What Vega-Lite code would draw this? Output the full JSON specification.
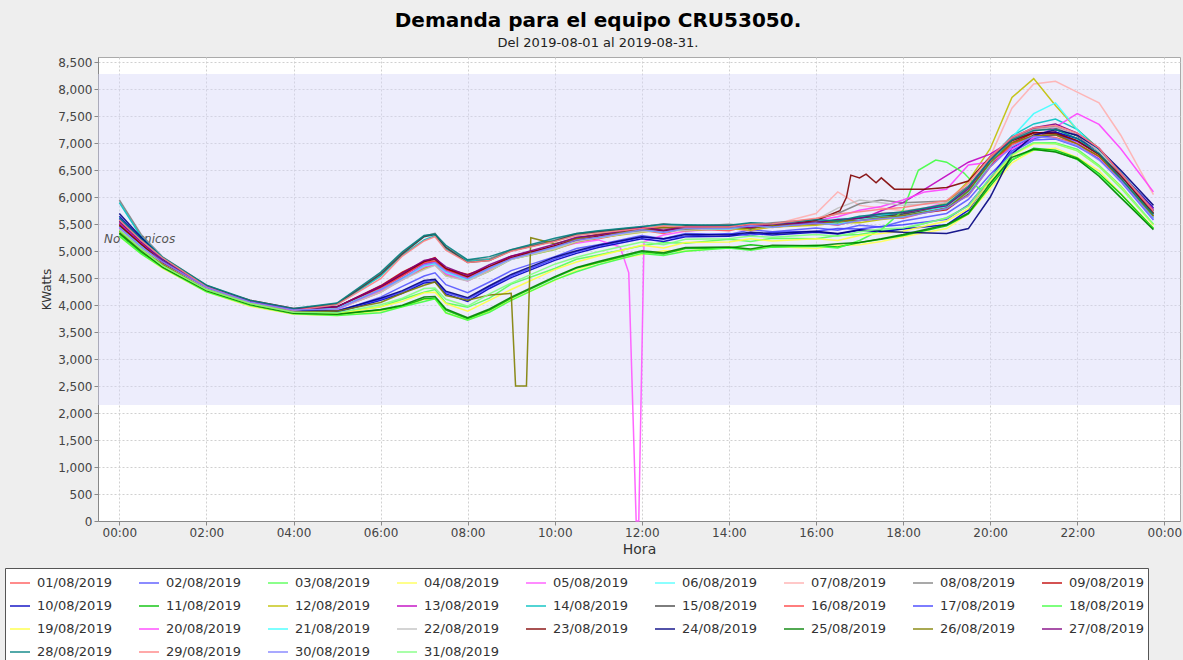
{
"$schema": "https://vega.github.io/schema/vega-lite/v6.json",
"width": 1082, "height": 464,
"autosize": {"type": "none"},
"padding": {"left": 98, "top": 57, "right": 3, "bottom": 139},
"background": "#EEEEEE",
"config": {"font": "DejaVu Sans", "view": {"fill": "white", "stroke": "#aaaaaa"}},
"title": {"text": "Demanda para el equipo CRU53050.", "subtitle": "Del 2019-08-01 al 2019-08-31.", "fontSize": 20, "fontWeight": "bold", "color": "black", "subtitleFontSize": 13, "subtitleColor": "#222222", "anchor": "middle", "frame": "group", "dx": -41, "offset": 6, "subtitlePadding": 6},
"layer": [
{"data": {"values": [{"lo": 2150, "hi": 8285}]},
 "mark": {"type": "rect", "fill": "#d8d8f8", "opacity": 0.45},
 "encoding": {
  "y": {"field": "lo", "type": "quantitative", "scale": {"domain": [0, 8600], "nice": false, "zero": false}, "axis": {"title": "KWatts", "values": [0,500,1000,1500,2000,2500,3000,3500,4000,4500,5000,5500,6000,6500,7000,7500,8000,8500], "format": ",.0f", "grid": true, "gridDash": [2,2], "gridColor": "#d0d0d0", "tickColor": "#888888", "domainColor": "#888888", "tickSize": 4, "labelFontSize": 12, "labelColor": "#444444", "titleFontSize": 12, "titleFontWeight": "normal", "titleColor": "#333333", "labelFlush": false}},
  "y2": {"field": "hi"}}},
{"data": {"values": [{"h": -0.35, "v": 5230, "t": "No Técnicos"}]},
 "mark": {"type": "text", "align": "left", "baseline": "middle", "fontStyle": "italic", "fontSize": 12, "color": "#555555"},
 "encoding": {
  "x": {"field": "h", "type": "quantitative", "scale": {"domain": [-0.49, 24.36], "nice": false, "zero": false}, "axis": {"title": "Hora", "values": [0,2,4,6,8,10,12,14,16,18,20,22,24], "labelExpr": "(datum.value % 24 < 10 ? '0' : '') + (datum.value % 24) + ':00'", "grid": true, "gridDash": [2,2], "gridColor": "#d0d0d0", "tickColor": "#888888", "domainColor": "#888888", "tickSize": 4, "labelPadding": 2, "labelFontSize": 12, "labelColor": "#444444", "titleFontSize": 14, "titleFontWeight": "normal", "titleColor": "#333333", "labelFlush": false}},
  "y": {"field": "v", "type": "quantitative", "axis": {"title": "KWatts", "values": [0,500,1000,1500,2000,2500,3000,3500,4000,4500,5000,5500,6000,6500,7000,7500,8000,8500], "format": ",.0f", "grid": true, "gridDash": [2,2], "gridColor": "#d0d0d0", "tickColor": "#888888", "domainColor": "#888888", "tickSize": 4, "labelFontSize": 12, "labelColor": "#444444", "titleFontSize": 12, "titleFontWeight": "normal", "titleColor": "#333333", "labelFlush": false}},
  "text": {"field": "t"}}},
{"data": {"values": [
{"d":1,"h":0,"v":5400},{"d":1,"h":0.5,"v":5060},{"d":1,"h":1,"v":4750},{"d":1,"h":2,"v":4310},{"d":1,"h":3,"v":4030},{"d":1,"h":4,"v":3880},{"d":1,"h":5,"v":3930},{"d":1,"h":6,"v":4240},{"d":1,"h":6.5,"v":4490},{"d":1,"h":7,"v":4690},{"d":1,"h":7.25,"v":4770},{"d":1,"h":7.5,"v":4570},{"d":1,"h":8,"v":4480},{"d":1,"h":8.5,"v":4640},{"d":1,"h":9,"v":4870},{"d":1,"h":10,"v":5040},{"d":1,"h":10.5,"v":5180},{"d":1,"h":11,"v":5230},{"d":1,"h":12,"v":5390},{"d":1,"h":12.5,"v":5330},{"d":1,"h":13,"v":5420},{"d":1,"h":14,"v":5380},{"d":1,"h":14.5,"v":5470},{"d":1,"h":15,"v":5440},{"d":1,"h":16,"v":5530},{"d":1,"h":16.5,"v":5480},{"d":1,"h":17,"v":5590},{"d":1,"h":17.5,"v":5620},{"d":1,"h":18,"v":5610},{"d":1,"h":19,"v":5820},{"d":1,"h":19.5,"v":6030},{"d":1,"h":20,"v":6560},{"d":1,"h":20.5,"v":6970},{"d":1,"h":21,"v":7160},{"d":1,"h":21.5,"v":7110},{"d":1,"h":22,"v":6990},{"d":1,"h":22.5,"v":6710},{"d":1,"h":23,"v":6330},{"d":1,"h":23.75,"v":5620},
{"d":2,"h":0,"v":5350},{"d":2,"h":0.5,"v":4990},{"d":2,"h":1,"v":4730},{"d":2,"h":2,"v":4260},{"d":2,"h":3,"v":3990},{"d":2,"h":4,"v":3840},{"d":2,"h":5,"v":3880},{"d":2,"h":6,"v":4150},{"d":2,"h":6.5,"v":4350},{"d":2,"h":7,"v":4540},{"d":2,"h":7.25,"v":4600},{"d":2,"h":7.5,"v":4380},{"d":2,"h":8,"v":4230},{"d":2,"h":8.5,"v":4430},{"d":2,"h":9,"v":4640},{"d":2,"h":10,"v":4900},{"d":2,"h":10.5,"v":5050},{"d":2,"h":11,"v":5120},{"d":2,"h":12,"v":5290},{"d":2,"h":12.5,"v":5230},{"d":2,"h":13,"v":5330},{"d":2,"h":14,"v":5310},{"d":2,"h":14.5,"v":5400},{"d":2,"h":15,"v":5360},{"d":2,"h":16,"v":5430},{"d":2,"h":16.5,"v":5390},{"d":2,"h":17,"v":5480},{"d":2,"h":17.5,"v":5450},{"d":2,"h":18,"v":5560},{"d":2,"h":19,"v":5700},{"d":2,"h":19.5,"v":5960},{"d":2,"h":20,"v":6420},{"d":2,"h":20.5,"v":6830},{"d":2,"h":21,"v":7060},{"d":2,"h":21.5,"v":7080},{"d":2,"h":22,"v":6940},{"d":2,"h":22.5,"v":6710},{"d":2,"h":23,"v":6290},{"d":2,"h":23.75,"v":5580},
{"d":3,"h":0,"v":5380},{"d":3,"h":0.5,"v":5010},{"d":3,"h":1,"v":4740},{"d":3,"h":2,"v":4300},{"d":3,"h":3,"v":4060},{"d":3,"h":4,"v":3890},{"d":3,"h":5,"v":3850},{"d":3,"h":6,"v":3970},{"d":3,"h":6.5,"v":4110},{"d":3,"h":7,"v":4240},{"d":3,"h":7.25,"v":4290},{"d":3,"h":7.5,"v":4040},{"d":3,"h":8,"v":3960},{"d":3,"h":8.5,"v":4130},{"d":3,"h":9,"v":4390},{"d":3,"h":10,"v":4680},{"d":3,"h":10.5,"v":4850},{"d":3,"h":11,"v":4930},{"d":3,"h":12,"v":5100},{"d":3,"h":12.5,"v":5160},{"d":3,"h":13,"v":5150},{"d":3,"h":14,"v":5220},{"d":3,"h":14.5,"v":5180},{"d":3,"h":15,"v":5240},{"d":3,"h":16,"v":5230},{"d":3,"h":16.5,"v":5290},{"d":3,"h":17,"v":5310},{"d":3,"h":17.5,"v":5380},{"d":3,"h":18,"v":5410},{"d":3,"h":19,"v":5620},{"d":3,"h":19.5,"v":5840},{"d":3,"h":20,"v":6360},{"d":3,"h":20.5,"v":6790},{"d":3,"h":21,"v":7010},{"d":3,"h":21.5,"v":7010},{"d":3,"h":22,"v":6890},{"d":3,"h":22.5,"v":6590},{"d":3,"h":23,"v":6210},{"d":3,"h":23.75,"v":5500},
{"d":4,"h":0,"v":5280},{"d":4,"h":0.5,"v":4960},{"d":4,"h":1,"v":4680},{"d":4,"h":2,"v":4250},{"d":4,"h":3,"v":3980},{"d":4,"h":4,"v":3830},{"d":4,"h":5,"v":3810},{"d":4,"h":6,"v":3890},{"d":4,"h":6.5,"v":3970},{"d":4,"h":7,"v":4110},{"d":4,"h":7.25,"v":4120},{"d":4,"h":7.5,"v":3860},{"d":4,"h":8,"v":3730},{"d":4,"h":8.5,"v":3890},{"d":4,"h":9,"v":4100},{"d":4,"h":10,"v":4460},{"d":4,"h":10.5,"v":4650},{"d":4,"h":11,"v":4790},{"d":4,"h":12,"v":4940},{"d":4,"h":12.5,"v":5010},{"d":4,"h":13,"v":5000},{"d":4,"h":14,"v":5080},{"d":4,"h":14.5,"v":5030},{"d":4,"h":15,"v":5090},{"d":4,"h":16,"v":5050},{"d":4,"h":16.5,"v":5110},{"d":4,"h":17,"v":5120},{"d":4,"h":17.5,"v":5180},{"d":4,"h":18,"v":5270},{"d":4,"h":19,"v":5420},{"d":4,"h":19.5,"v":5690},{"d":4,"h":20,"v":6160},{"d":4,"h":20.5,"v":6640},{"d":4,"h":21,"v":6870},{"d":4,"h":21.5,"v":6910},{"d":4,"h":22,"v":6740},{"d":4,"h":22.5,"v":6490},{"d":4,"h":23,"v":6070},{"d":4,"h":23.75,"v":5430},
{"d":5,"h":0,"v":5450},{"d":5,"h":0.5,"v":5110},{"d":5,"h":1,"v":4780},{"d":5,"h":2,"v":4330},{"d":5,"h":3,"v":4070},{"d":5,"h":4,"v":3920},{"d":5,"h":5,"v":3960},{"d":5,"h":6,"v":4310},{"d":5,"h":6.5,"v":4490},{"d":5,"h":7,"v":4730},{"d":5,"h":7.25,"v":4790},{"d":5,"h":7.5,"v":4590},{"d":5,"h":8,"v":4490},{"d":5,"h":8.5,"v":4670},{"d":5,"h":9,"v":4890},{"d":5,"h":10,"v":5050},{"d":5,"h":10.5,"v":5150},{"d":5,"h":11,"v":5210},{"d":5,"h":11.5,"v":5080},{"d":5,"h":11.7,"v":4600},{"d":5,"h":11.87,"v":0},{"d":5,"h":11.93,"v":0},{"d":5,"h":12.05,"v":5180},{"d":5,"h":12.5,"v":5300},{"d":5,"h":13,"v":5370},{"d":5,"h":14,"v":5420},{"d":5,"h":14.5,"v":5380},{"d":5,"h":15,"v":5460},{"d":5,"h":16,"v":5510},{"d":5,"h":16.5,"v":5560},{"d":5,"h":17,"v":5610},{"d":5,"h":17.5,"v":5660},{"d":5,"h":18,"v":5690},{"d":5,"h":19,"v":5910},{"d":5,"h":19.5,"v":6190},{"d":5,"h":20,"v":6710},{"d":5,"h":20.5,"v":7040},{"d":5,"h":21,"v":7210},{"d":5,"h":21.5,"v":7170},{"d":5,"h":22,"v":7010},{"d":5,"h":22.5,"v":6740},{"d":5,"h":23,"v":6360},{"d":5,"h":23.75,"v":5680},
{"d":6,"h":0,"v":5500},{"d":6,"h":0.5,"v":5140},{"d":6,"h":1,"v":4830},{"d":6,"h":2,"v":4350},{"d":6,"h":3,"v":4080},{"d":6,"h":4,"v":3930},{"d":6,"h":5,"v":3950},{"d":6,"h":6,"v":4270},{"d":6,"h":6.5,"v":4510},{"d":6,"h":7,"v":4690},{"d":6,"h":7.25,"v":4770},{"d":6,"h":7.5,"v":4570},{"d":6,"h":8,"v":4460},{"d":6,"h":8.5,"v":4630},{"d":6,"h":9,"v":4850},{"d":6,"h":10,"v":5030},{"d":6,"h":10.5,"v":5190},{"d":6,"h":11,"v":5250},{"d":6,"h":12,"v":5370},{"d":6,"h":12.5,"v":5440},{"d":6,"h":13,"v":5410},{"d":6,"h":14,"v":5470},{"d":6,"h":14.5,"v":5420},{"d":6,"h":15,"v":5490},{"d":6,"h":16,"v":5530},{"d":6,"h":16.5,"v":5600},{"d":6,"h":17,"v":5610},{"d":6,"h":17.5,"v":5690},{"d":6,"h":18,"v":5670},{"d":6,"h":19,"v":5860},{"d":6,"h":19.5,"v":6140},{"d":6,"h":20,"v":6660},{"d":6,"h":20.5,"v":6990},{"d":6,"h":21,"v":7190},{"d":6,"h":21.5,"v":7190},{"d":6,"h":22,"v":7060},{"d":6,"h":22.5,"v":6790},{"d":6,"h":23,"v":6390},{"d":6,"h":23.75,"v":5680},
{"d":7,"h":0,"v":5420},{"d":7,"h":0.5,"v":5070},{"d":7,"h":1,"v":4790},{"d":7,"h":2,"v":4330},{"d":7,"h":3,"v":4040},{"d":7,"h":4,"v":3890},{"d":7,"h":5,"v":3940},{"d":7,"h":6,"v":4250},{"d":7,"h":6.5,"v":4480},{"d":7,"h":7,"v":4670},{"d":7,"h":7.25,"v":4750},{"d":7,"h":7.5,"v":4550},{"d":7,"h":8,"v":4470},{"d":7,"h":8.5,"v":4650},{"d":7,"h":9,"v":4870},{"d":7,"h":10,"v":5070},{"d":7,"h":10.5,"v":5200},{"d":7,"h":11,"v":5290},{"d":7,"h":12,"v":5390},{"d":7,"h":12.5,"v":5360},{"d":7,"h":13,"v":5440},{"d":7,"h":14,"v":5450},{"d":7,"h":14.5,"v":5510},{"d":7,"h":15,"v":5490},{"d":7,"h":16,"v":5700},{"d":7,"h":16.5,"v":6100},{"d":7,"h":17,"v":5850},{"d":7,"h":17.5,"v":5800},{"d":7,"h":18,"v":5750},{"d":7,"h":19,"v":5850},{"d":7,"h":19.5,"v":6100},{"d":7,"h":20,"v":6750},{"d":7,"h":20.5,"v":7650},{"d":7,"h":21,"v":8100},{"d":7,"h":21.5,"v":8150},{"d":7,"h":22,"v":7950},{"d":7,"h":22.5,"v":7750},{"d":7,"h":23,"v":7150},{"d":7,"h":23.75,"v":6050},
{"d":8,"h":0,"v":5950},{"d":8,"h":0.5,"v":5310},{"d":8,"h":1,"v":4890},{"d":8,"h":2,"v":4370},{"d":8,"h":3,"v":4080},{"d":8,"h":4,"v":3930},{"d":8,"h":5,"v":4030},{"d":8,"h":6,"v":4590},{"d":8,"h":6.5,"v":4970},{"d":8,"h":7,"v":5280},{"d":8,"h":7.25,"v":5330},{"d":8,"h":7.5,"v":5070},{"d":8,"h":8,"v":4830},{"d":8,"h":8.5,"v":4860},{"d":8,"h":9,"v":5030},{"d":8,"h":10,"v":5210},{"d":8,"h":10.5,"v":5330},{"d":8,"h":11,"v":5370},{"d":8,"h":12,"v":5450},{"d":8,"h":12.5,"v":5510},{"d":8,"h":13,"v":5460},{"d":8,"h":14,"v":5500},{"d":8,"h":14.5,"v":5470},{"d":8,"h":15,"v":5530},{"d":8,"h":16,"v":5590},{"d":8,"h":16.5,"v":5700},{"d":8,"h":17,"v":5880},{"d":8,"h":17.5,"v":5950},{"d":8,"h":18,"v":5900},{"d":8,"h":19,"v":5930},{"d":8,"h":19.5,"v":6210},{"d":8,"h":20,"v":6690},{"d":8,"h":20.5,"v":7090},{"d":8,"h":21,"v":7270},{"d":8,"h":21.5,"v":7310},{"d":8,"h":22,"v":7140},{"d":8,"h":22.5,"v":6860},{"d":8,"h":23,"v":6410},{"d":8,"h":23.75,"v":5720},
{"d":9,"h":0,"v":5500},{"d":9,"h":0.5,"v":5130},{"d":9,"h":1,"v":4810},{"d":9,"h":2,"v":4340},{"d":9,"h":3,"v":4090},{"d":9,"h":4,"v":3940},{"d":9,"h":5,"v":3970},{"d":9,"h":6,"v":4360},{"d":9,"h":6.5,"v":4610},{"d":9,"h":7,"v":4810},{"d":9,"h":7.25,"v":4880},{"d":9,"h":7.5,"v":4670},{"d":9,"h":8,"v":4570},{"d":9,"h":8.5,"v":4710},{"d":9,"h":9,"v":4910},{"d":9,"h":10,"v":5090},{"d":9,"h":10.5,"v":5240},{"d":9,"h":11,"v":5310},{"d":9,"h":12,"v":5410},{"d":9,"h":12.5,"v":5370},{"d":9,"h":13,"v":5450},{"d":9,"h":14,"v":5450},{"d":9,"h":14.5,"v":5500},{"d":9,"h":15,"v":5480},{"d":9,"h":16,"v":5550},{"d":9,"h":16.5,"v":5520},{"d":9,"h":17,"v":5590},{"d":9,"h":17.5,"v":5640},{"d":9,"h":18,"v":5660},{"d":9,"h":19,"v":5770},{"d":9,"h":19.5,"v":6060},{"d":9,"h":20,"v":6590},{"d":9,"h":20.5,"v":7010},{"d":9,"h":21,"v":7190},{"d":9,"h":21.5,"v":7210},{"d":9,"h":22,"v":7040},{"d":9,"h":22.5,"v":6790},{"d":9,"h":23,"v":6370},{"d":9,"h":23.75,"v":5700},
{"d":10,"h":0,"v":5650},{"d":10,"h":0.5,"v":5230},{"d":10,"h":1,"v":4860},{"d":10,"h":2,"v":4350},{"d":10,"h":3,"v":4070},{"d":10,"h":4,"v":3910},{"d":10,"h":5,"v":3870},{"d":10,"h":6,"v":4090},{"d":10,"h":6.5,"v":4220},{"d":10,"h":7,"v":4410},{"d":10,"h":7.25,"v":4430},{"d":10,"h":7.5,"v":4210},{"d":10,"h":8,"v":4070},{"d":10,"h":8.5,"v":4310},{"d":10,"h":9,"v":4510},{"d":10,"h":10,"v":4830},{"d":10,"h":10.5,"v":4960},{"d":10,"h":11,"v":5070},{"d":10,"h":12,"v":5230},{"d":10,"h":12.5,"v":5180},{"d":10,"h":13,"v":5270},{"d":10,"h":14,"v":5280},{"d":10,"h":14.5,"v":5330},{"d":10,"h":15,"v":5300},{"d":10,"h":16,"v":5350},{"d":10,"h":16.5,"v":5320},{"d":10,"h":17,"v":5390},{"d":10,"h":17.5,"v":5360},{"d":10,"h":18,"v":5410},{"d":10,"h":19,"v":5490},{"d":10,"h":19.5,"v":5760},{"d":10,"h":20,"v":6340},{"d":10,"h":20.5,"v":6910},{"d":10,"h":21,"v":7140},{"d":10,"h":21.5,"v":7210},{"d":10,"h":22,"v":7090},{"d":10,"h":22.5,"v":6860},{"d":10,"h":23,"v":6440},{"d":10,"h":23.75,"v":5800},
{"d":11,"h":0,"v":5320},{"d":11,"h":0.5,"v":4980},{"d":11,"h":1,"v":4710},{"d":11,"h":2,"v":4270},{"d":11,"h":3,"v":4010},{"d":11,"h":4,"v":3850},{"d":11,"h":5,"v":3830},{"d":11,"h":6,"v":3910},{"d":11,"h":6.5,"v":3980},{"d":11,"h":7,"v":4120},{"d":11,"h":7.25,"v":4130},{"d":11,"h":7.5,"v":3910},{"d":11,"h":8,"v":3750},{"d":11,"h":8.5,"v":3910},{"d":11,"h":9,"v":4130},{"d":11,"h":10,"v":4510},{"d":11,"h":10.5,"v":4690},{"d":11,"h":11,"v":4790},{"d":11,"h":12,"v":4990},{"d":11,"h":12.5,"v":4950},{"d":11,"h":13,"v":5050},{"d":11,"h":14,"v":5060},{"d":11,"h":14.5,"v":5120},{"d":11,"h":15,"v":5080},{"d":11,"h":16,"v":5110},{"d":11,"h":16.5,"v":5080},{"d":11,"h":17,"v":5160},{"d":11,"h":17.5,"v":5220},{"d":11,"h":18,"v":5290},{"d":11,"h":19,"v":5470},{"d":11,"h":19.5,"v":5690},{"d":11,"h":20,"v":6210},{"d":11,"h":20.5,"v":6690},{"d":11,"h":21,"v":6910},{"d":11,"h":21.5,"v":6870},{"d":11,"h":22,"v":6730},{"d":11,"h":22.5,"v":6440},{"d":11,"h":23,"v":6060},{"d":11,"h":23.75,"v":5420},
{"d":12,"h":0,"v":5480},{"d":12,"h":0.5,"v":5110},{"d":12,"h":1,"v":4810},{"d":12,"h":2,"v":4320},{"d":12,"h":3,"v":4050},{"d":12,"h":4,"v":3890},{"d":12,"h":5,"v":3950},{"d":12,"h":6,"v":4260},{"d":12,"h":6.5,"v":4480},{"d":12,"h":7,"v":4680},{"d":12,"h":7.25,"v":4750},{"d":12,"h":7.5,"v":4550},{"d":12,"h":8,"v":4460},{"d":12,"h":8.5,"v":4630},{"d":12,"h":9,"v":4850},{"d":12,"h":10,"v":5030},{"d":12,"h":10.5,"v":5170},{"d":12,"h":11,"v":5250},{"d":12,"h":12,"v":5350},{"d":12,"h":12.5,"v":5400},{"d":12,"h":13,"v":5380},{"d":12,"h":14,"v":5420},{"d":12,"h":14.5,"v":5390},{"d":12,"h":15,"v":5450},{"d":12,"h":16,"v":5480},{"d":12,"h":16.5,"v":5530},{"d":12,"h":17,"v":5530},{"d":12,"h":17.5,"v":5590},{"d":12,"h":18,"v":5630},{"d":12,"h":19,"v":5900},{"d":12,"h":19.5,"v":6300},{"d":12,"h":20,"v":6900},{"d":12,"h":20.5,"v":7850},{"d":12,"h":21,"v":8200},{"d":12,"h":21.5,"v":7700},{"d":12,"h":22,"v":7250},{"d":12,"h":22.5,"v":6900},{"d":12,"h":23,"v":6450},{"d":12,"h":23.75,"v":5650},
{"d":13,"h":0,"v":5520},{"d":13,"h":0.5,"v":5150},{"d":13,"h":1,"v":4800},{"d":13,"h":2,"v":4320},{"d":13,"h":3,"v":4070},{"d":13,"h":4,"v":3920},{"d":13,"h":5,"v":3940},{"d":13,"h":6,"v":4330},{"d":13,"h":6.5,"v":4550},{"d":13,"h":7,"v":4770},{"d":13,"h":7.25,"v":4810},{"d":13,"h":7.5,"v":4650},{"d":13,"h":8,"v":4510},{"d":13,"h":8.5,"v":4710},{"d":13,"h":9,"v":4870},{"d":13,"h":10,"v":5090},{"d":13,"h":10.5,"v":5210},{"d":13,"h":11,"v":5270},{"d":13,"h":12,"v":5410},{"d":13,"h":12.5,"v":5360},{"d":13,"h":13,"v":5430},{"d":13,"h":14,"v":5430},{"d":13,"h":14.5,"v":5480},{"d":13,"h":15,"v":5460},{"d":13,"h":16,"v":5520},{"d":13,"h":16.5,"v":5560},{"d":13,"h":17,"v":5580},{"d":13,"h":17.5,"v":5750},{"d":13,"h":18,"v":5900},{"d":13,"h":19,"v":6400},{"d":13,"h":19.5,"v":6650},{"d":13,"h":20,"v":6800},{"d":13,"h":20.5,"v":7050},{"d":13,"h":21,"v":7250},{"d":13,"h":21.5,"v":7300},{"d":13,"h":22,"v":7150},{"d":13,"h":22.5,"v":6850},{"d":13,"h":23,"v":6420},{"d":13,"h":23.75,"v":5780},
{"d":14,"h":0,"v":5900},{"d":14,"h":0.5,"v":5270},{"d":14,"h":1,"v":4880},{"d":14,"h":2,"v":4360},{"d":14,"h":3,"v":4060},{"d":14,"h":4,"v":3910},{"d":14,"h":5,"v":4010},{"d":14,"h":6,"v":4540},{"d":14,"h":6.5,"v":4930},{"d":14,"h":7,"v":5210},{"d":14,"h":7.25,"v":5290},{"d":14,"h":7.5,"v":5040},{"d":14,"h":8,"v":4810},{"d":14,"h":8.5,"v":4840},{"d":14,"h":9,"v":5010},{"d":14,"h":10,"v":5190},{"d":14,"h":10.5,"v":5300},{"d":14,"h":11,"v":5350},{"d":14,"h":12,"v":5430},{"d":14,"h":12.5,"v":5480},{"d":14,"h":13,"v":5460},{"d":14,"h":14,"v":5460},{"d":14,"h":14.5,"v":5520},{"d":14,"h":15,"v":5490},{"d":14,"h":16,"v":5570},{"d":14,"h":16.5,"v":5540},{"d":14,"h":17,"v":5630},{"d":14,"h":17.5,"v":5660},{"d":14,"h":18,"v":5710},{"d":14,"h":19,"v":5860},{"d":14,"h":19.5,"v":6140},{"d":14,"h":20,"v":6710},{"d":14,"h":20.5,"v":7140},{"d":14,"h":21,"v":7360},{"d":14,"h":21.5,"v":7450},{"d":14,"h":22,"v":7260},{"d":14,"h":22.5,"v":6890},{"d":14,"h":23,"v":6460},{"d":14,"h":23.75,"v":5750},
{"d":15,"h":0,"v":5550},{"d":15,"h":0.5,"v":5190},{"d":15,"h":1,"v":4850},{"d":15,"h":2,"v":4360},{"d":15,"h":3,"v":4070},{"d":15,"h":4,"v":3920},{"d":15,"h":5,"v":4020},{"d":15,"h":6,"v":4570},{"d":15,"h":6.5,"v":4950},{"d":15,"h":7,"v":5270},{"d":15,"h":7.25,"v":5310},{"d":15,"h":7.5,"v":5070},{"d":15,"h":8,"v":4790},{"d":15,"h":8.5,"v":4830},{"d":15,"h":9,"v":5010},{"d":15,"h":10,"v":5190},{"d":15,"h":10.5,"v":5320},{"d":15,"h":11,"v":5360},{"d":15,"h":12,"v":5440},{"d":15,"h":12.5,"v":5400},{"d":15,"h":13,"v":5470},{"d":15,"h":14,"v":5460},{"d":15,"h":14.5,"v":5420},{"d":15,"h":15,"v":5510},{"d":15,"h":16,"v":5530},{"d":15,"h":16.5,"v":5580},{"d":15,"h":17,"v":5610},{"d":15,"h":17.5,"v":5640},{"d":15,"h":18,"v":5690},{"d":15,"h":19,"v":5810},{"d":15,"h":19.5,"v":6110},{"d":15,"h":20,"v":6640},{"d":15,"h":20.5,"v":7060},{"d":15,"h":21,"v":7240},{"d":15,"h":21.5,"v":7290},{"d":15,"h":22,"v":7140},{"d":15,"h":22.5,"v":6860},{"d":15,"h":23,"v":6390},{"d":15,"h":23.75,"v":5700},
{"d":16,"h":0,"v":5470},{"d":16,"h":0.5,"v":5120},{"d":16,"h":1,"v":4790},{"d":16,"h":2,"v":4320},{"d":16,"h":3,"v":4050},{"d":16,"h":4,"v":3890},{"d":16,"h":5,"v":3950},{"d":16,"h":6,"v":4310},{"d":16,"h":6.5,"v":4540},{"d":16,"h":7,"v":4790},{"d":16,"h":7.25,"v":4820},{"d":16,"h":7.5,"v":4660},{"d":16,"h":8,"v":4510},{"d":16,"h":8.5,"v":4710},{"d":16,"h":9,"v":4870},{"d":16,"h":10,"v":5090},{"d":16,"h":10.5,"v":5200},{"d":16,"h":11,"v":5270},{"d":16,"h":12,"v":5410},{"d":16,"h":12.5,"v":5450},{"d":16,"h":13,"v":5410},{"d":16,"h":14,"v":5450},{"d":16,"h":14.5,"v":5430},{"d":16,"h":15,"v":5480},{"d":16,"h":16,"v":5510},{"d":16,"h":16.5,"v":5570},{"d":16,"h":17,"v":5570},{"d":16,"h":17.5,"v":5610},{"d":16,"h":18,"v":5660},{"d":16,"h":19,"v":5790},{"d":16,"h":19.5,"v":6090},{"d":16,"h":20,"v":6590},{"d":16,"h":20.5,"v":6990},{"d":16,"h":21,"v":7140},{"d":16,"h":21.5,"v":7160},{"d":16,"h":22,"v":6990},{"d":16,"h":22.5,"v":6760},{"d":16,"h":23,"v":6340},{"d":16,"h":23.75,"v":5650},
{"d":17,"h":0,"v":5600},{"d":17,"h":0.5,"v":5210},{"d":17,"h":1,"v":4830},{"d":17,"h":2,"v":4330},{"d":17,"h":3,"v":4050},{"d":17,"h":4,"v":3890},{"d":17,"h":5,"v":3900},{"d":17,"h":6,"v":4110},{"d":17,"h":6.5,"v":4250},{"d":17,"h":7,"v":4440},{"d":17,"h":7.25,"v":4460},{"d":17,"h":7.5,"v":4240},{"d":17,"h":8,"v":4110},{"d":17,"h":8.5,"v":4340},{"d":17,"h":9,"v":4540},{"d":17,"h":10,"v":4860},{"d":17,"h":10.5,"v":4990},{"d":17,"h":11,"v":5090},{"d":17,"h":12,"v":5260},{"d":17,"h":12.5,"v":5220},{"d":17,"h":13,"v":5280},{"d":17,"h":14,"v":5330},{"d":17,"h":14.5,"v":5290},{"d":17,"h":15,"v":5350},{"d":17,"h":16,"v":5370},{"d":17,"h":16.5,"v":5420},{"d":17,"h":17,"v":5410},{"d":17,"h":17.5,"v":5460},{"d":17,"h":18,"v":5490},{"d":17,"h":19,"v":5590},{"d":17,"h":19.5,"v":5860},{"d":17,"h":20,"v":6340},{"d":17,"h":20.5,"v":6860},{"d":17,"h":21,"v":7090},{"d":17,"h":21.5,"v":7160},{"d":17,"h":22,"v":7040},{"d":17,"h":22.5,"v":6810},{"d":17,"h":23,"v":6390},{"d":17,"h":23.75,"v":5750},
{"d":18,"h":0,"v":5280},{"d":18,"h":0.5,"v":4950},{"d":18,"h":1,"v":4690},{"d":18,"h":2,"v":4250},{"d":18,"h":3,"v":4000},{"d":18,"h":4,"v":3840},{"d":18,"h":5,"v":3810},{"d":18,"h":6,"v":3860},{"d":18,"h":6.5,"v":3970},{"d":18,"h":7,"v":4070},{"d":18,"h":7.25,"v":4120},{"d":18,"h":7.5,"v":3860},{"d":18,"h":8,"v":3720},{"d":18,"h":8.5,"v":3870},{"d":18,"h":9,"v":4090},{"d":18,"h":10,"v":4470},{"d":18,"h":10.5,"v":4620},{"d":18,"h":11,"v":4750},{"d":18,"h":12,"v":4960},{"d":18,"h":12.5,"v":4920},{"d":18,"h":13,"v":5000},{"d":18,"h":14,"v":5060},{"d":18,"h":14.5,"v":5020},{"d":18,"h":15,"v":5080},{"d":18,"h":16,"v":5090},{"d":18,"h":16.5,"v":5060},{"d":18,"h":17,"v":5200},{"d":18,"h":17.5,"v":5400},{"d":18,"h":18,"v":5760},{"d":18,"h":18.35,"v":6500},{"d":18,"h":18.75,"v":6690},{"d":18,"h":19,"v":6650},{"d":18,"h":19.4,"v":6450},{"d":18,"h":19.75,"v":6150},{"d":18,"h":20,"v":6250},{"d":18,"h":20.5,"v":6700},{"d":18,"h":21,"v":6880},{"d":18,"h":21.5,"v":6850},{"d":18,"h":22,"v":6700},{"d":18,"h":22.5,"v":6420},{"d":18,"h":23,"v":6000},{"d":18,"h":23.75,"v":5420},
{"d":19,"h":0,"v":5360},{"d":19,"h":0.5,"v":5020},{"d":19,"h":1,"v":4710},{"d":19,"h":2,"v":4280},{"d":19,"h":3,"v":4020},{"d":19,"h":4,"v":3860},{"d":19,"h":5,"v":3840},{"d":19,"h":6,"v":3970},{"d":19,"h":6.5,"v":4070},{"d":19,"h":7,"v":4230},{"d":19,"h":7.25,"v":4240},{"d":19,"h":7.5,"v":4030},{"d":19,"h":8,"v":3890},{"d":19,"h":8.5,"v":4090},{"d":19,"h":9,"v":4290},{"d":19,"h":10,"v":4660},{"d":19,"h":10.5,"v":4800},{"d":19,"h":11,"v":4910},{"d":19,"h":12,"v":5110},{"d":19,"h":12.5,"v":5060},{"d":19,"h":13,"v":5160},{"d":19,"h":14,"v":5170},{"d":19,"h":14.5,"v":5230},{"d":19,"h":15,"v":5190},{"d":19,"h":16,"v":5230},{"d":19,"h":16.5,"v":5200},{"d":19,"h":17,"v":5290},{"d":19,"h":17.5,"v":5330},{"d":19,"h":18,"v":5370},{"d":19,"h":19,"v":5560},{"d":19,"h":19.5,"v":5790},{"d":19,"h":20,"v":6310},{"d":19,"h":20.5,"v":6770},{"d":19,"h":21,"v":6990},{"d":19,"h":21.5,"v":6990},{"d":19,"h":22,"v":6860},{"d":19,"h":22.5,"v":6570},{"d":19,"h":23,"v":6190},{"d":19,"h":23.75,"v":5480},
{"d":20,"h":0,"v":5430},{"d":20,"h":0.5,"v":5080},{"d":20,"h":1,"v":4800},{"d":20,"h":2,"v":4310},{"d":20,"h":3,"v":4060},{"d":20,"h":4,"v":3910},{"d":20,"h":5,"v":3920},{"d":20,"h":6,"v":4270},{"d":20,"h":6.5,"v":4470},{"d":20,"h":7,"v":4710},{"d":20,"h":7.25,"v":4750},{"d":20,"h":7.5,"v":4580},{"d":20,"h":8,"v":4450},{"d":20,"h":8.5,"v":4670},{"d":20,"h":9,"v":4850},{"d":20,"h":10,"v":5070},{"d":20,"h":10.5,"v":5190},{"d":20,"h":11,"v":5250},{"d":20,"h":12,"v":5390},{"d":20,"h":12.5,"v":5420},{"d":20,"h":13,"v":5400},{"d":20,"h":14,"v":5460},{"d":20,"h":14.5,"v":5440},{"d":20,"h":15,"v":5510},{"d":20,"h":16,"v":5570},{"d":20,"h":16.5,"v":5640},{"d":20,"h":17,"v":5760},{"d":20,"h":17.5,"v":5830},{"d":20,"h":18,"v":5950},{"d":20,"h":18.5,"v":6100},{"d":20,"h":19,"v":6150},{"d":20,"h":19.5,"v":6600},{"d":20,"h":20,"v":6650},{"d":20,"h":20.5,"v":6900},{"d":20,"h":21,"v":7100},{"d":20,"h":21.5,"v":7300},{"d":20,"h":22,"v":7550},{"d":20,"h":22.5,"v":7350},{"d":20,"h":23,"v":6900},{"d":20,"h":23.75,"v":6100},
{"d":21,"h":0,"v":5460},{"d":21,"h":0.5,"v":5100},{"d":21,"h":1,"v":4810},{"d":21,"h":2,"v":4340},{"d":21,"h":3,"v":4050},{"d":21,"h":4,"v":3900},{"d":21,"h":5,"v":3950},{"d":21,"h":6,"v":4290},{"d":21,"h":6.5,"v":4490},{"d":21,"h":7,"v":4730},{"d":21,"h":7.25,"v":4770},{"d":21,"h":7.5,"v":4610},{"d":21,"h":8,"v":4470},{"d":21,"h":8.5,"v":4680},{"d":21,"h":9,"v":4850},{"d":21,"h":10,"v":5070},{"d":21,"h":10.5,"v":5200},{"d":21,"h":11,"v":5250},{"d":21,"h":12,"v":5390},{"d":21,"h":12.5,"v":5350},{"d":21,"h":13,"v":5410},{"d":21,"h":14,"v":5410},{"d":21,"h":14.5,"v":5460},{"d":21,"h":15,"v":5450},{"d":21,"h":16,"v":5530},{"d":21,"h":16.5,"v":5500},{"d":21,"h":17,"v":5590},{"d":21,"h":17.5,"v":5630},{"d":21,"h":18,"v":5650},{"d":21,"h":19,"v":5830},{"d":21,"h":19.5,"v":6090},{"d":21,"h":20,"v":6610},{"d":21,"h":20.5,"v":7110},{"d":21,"h":21,"v":7550},{"d":21,"h":21.5,"v":7750},{"d":21,"h":22,"v":7250},{"d":21,"h":22.5,"v":6850},{"d":21,"h":23,"v":6400},{"d":21,"h":23.75,"v":5620},
{"d":22,"h":0,"v":5400},{"d":22,"h":0.5,"v":5070},{"d":22,"h":1,"v":4760},{"d":22,"h":2,"v":4300},{"d":22,"h":3,"v":4040},{"d":22,"h":4,"v":3880},{"d":22,"h":5,"v":3930},{"d":22,"h":6,"v":4240},{"d":22,"h":6.5,"v":4470},{"d":22,"h":7,"v":4660},{"d":22,"h":7.25,"v":4740},{"d":22,"h":7.5,"v":4540},{"d":22,"h":8,"v":4450},{"d":22,"h":8.5,"v":4630},{"d":22,"h":9,"v":4850},{"d":22,"h":10,"v":5040},{"d":22,"h":10.5,"v":5180},{"d":22,"h":11,"v":5260},{"d":22,"h":12,"v":5360},{"d":22,"h":12.5,"v":5410},{"d":22,"h":13,"v":5390},{"d":22,"h":14,"v":5440},{"d":22,"h":14.5,"v":5460},{"d":22,"h":15,"v":5480},{"d":22,"h":16,"v":5580},{"d":22,"h":16.5,"v":5800},{"d":22,"h":17,"v":5950},{"d":22,"h":17.5,"v":5900},{"d":22,"h":18,"v":5850},{"d":22,"h":19,"v":5900},{"d":22,"h":19.5,"v":6150},{"d":22,"h":20,"v":6700},{"d":22,"h":20.5,"v":7050},{"d":22,"h":21,"v":7250},{"d":22,"h":21.5,"v":7300},{"d":22,"h":22,"v":7150},{"d":22,"h":22.5,"v":6850},{"d":22,"h":23,"v":6450},{"d":22,"h":23.75,"v":5700},
{"d":23,"h":0,"v":5480},{"d":23,"h":0.5,"v":5130},{"d":23,"h":1,"v":4790},{"d":23,"h":2,"v":4340},{"d":23,"h":3,"v":4070},{"d":23,"h":4,"v":3910},{"d":23,"h":5,"v":3970},{"d":23,"h":6,"v":4340},{"d":23,"h":6.5,"v":4570},{"d":23,"h":7,"v":4810},{"d":23,"h":7.25,"v":4850},{"d":23,"h":7.5,"v":4680},{"d":23,"h":8,"v":4530},{"d":23,"h":8.5,"v":4720},{"d":23,"h":9,"v":4880},{"d":23,"h":10,"v":5100},{"d":23,"h":10.5,"v":5210},{"d":23,"h":11,"v":5280},{"d":23,"h":12,"v":5420},{"d":23,"h":12.5,"v":5380},{"d":23,"h":13,"v":5440},{"d":23,"h":14,"v":5440},{"d":23,"h":14.5,"v":5500},{"d":23,"h":15,"v":5470},{"d":23,"h":16,"v":5570},{"d":23,"h":16.55,"v":5750},{"d":23,"h":16.7,"v":6000},{"d":23,"h":16.8,"v":6410},{"d":23,"h":17,"v":6360},{"d":23,"h":17.15,"v":6430},{"d":23,"h":17.38,"v":6270},{"d":23,"h":17.5,"v":6360},{"d":23,"h":17.8,"v":6150},{"d":23,"h":18.5,"v":6150},{"d":23,"h":19,"v":6180},{"d":23,"h":19.5,"v":6300},{"d":23,"h":20,"v":6750},{"d":23,"h":20.5,"v":7050},{"d":23,"h":21,"v":7200},{"d":23,"h":21.5,"v":7180},{"d":23,"h":22,"v":7050},{"d":23,"h":22.5,"v":6800},{"d":23,"h":23,"v":6400},{"d":23,"h":23.75,"v":5700},
{"d":24,"h":0,"v":5700},{"d":24,"h":0.5,"v":5260},{"d":24,"h":1,"v":4860},{"d":24,"h":2,"v":4340},{"d":24,"h":3,"v":4060},{"d":24,"h":4,"v":3900},{"d":24,"h":5,"v":3890},{"d":24,"h":6,"v":4130},{"d":24,"h":6.5,"v":4270},{"d":24,"h":7,"v":4460},{"d":24,"h":7.25,"v":4480},{"d":24,"h":7.5,"v":4260},{"d":24,"h":8,"v":4140},{"d":24,"h":8.5,"v":4360},{"d":24,"h":9,"v":4570},{"d":24,"h":10,"v":4890},{"d":24,"h":10.5,"v":5010},{"d":24,"h":11,"v":5110},{"d":24,"h":12,"v":5270},{"d":24,"h":12.5,"v":5230},{"d":24,"h":13,"v":5310},{"d":24,"h":14,"v":5300},{"d":24,"h":14.5,"v":5350},{"d":24,"h":15,"v":5330},{"d":24,"h":16,"v":5370},{"d":24,"h":16.5,"v":5330},{"d":24,"h":17,"v":5400},{"d":24,"h":17.5,"v":5370},{"d":24,"h":18,"v":5350},{"d":24,"h":19,"v":5330},{"d":24,"h":19.5,"v":5420},{"d":24,"h":20,"v":6000},{"d":24,"h":20.5,"v":6800},{"d":24,"h":21,"v":7150},{"d":24,"h":21.5,"v":7250},{"d":24,"h":22,"v":7150},{"d":24,"h":22.5,"v":6900},{"d":24,"h":23,"v":6500},{"d":24,"h":23.75,"v":5850},
{"d":25,"h":0,"v":5340},{"d":25,"h":0.5,"v":5010},{"d":25,"h":1,"v":4700},{"d":25,"h":2,"v":4270},{"d":25,"h":3,"v":4010},{"d":25,"h":4,"v":3850},{"d":25,"h":5,"v":3830},{"d":25,"h":6,"v":3920},{"d":25,"h":6.5,"v":4000},{"d":25,"h":7,"v":4150},{"d":25,"h":7.25,"v":4160},{"d":25,"h":7.5,"v":3930},{"d":25,"h":8,"v":3770},{"d":25,"h":8.5,"v":3930},{"d":25,"h":9,"v":4150},{"d":25,"h":10,"v":4530},{"d":25,"h":10.5,"v":4700},{"d":25,"h":11,"v":4810},{"d":25,"h":12,"v":5010},{"d":25,"h":12.5,"v":4970},{"d":25,"h":13,"v":5070},{"d":25,"h":14,"v":5080},{"d":25,"h":14.5,"v":5040},{"d":25,"h":15,"v":5110},{"d":25,"h":16,"v":5100},{"d":25,"h":16.5,"v":5140},{"d":25,"h":17,"v":5160},{"d":25,"h":17.5,"v":5230},{"d":25,"h":18,"v":5310},{"d":25,"h":19,"v":5490},{"d":25,"h":19.5,"v":5710},{"d":25,"h":20,"v":6260},{"d":25,"h":20.5,"v":6740},{"d":25,"h":21,"v":6890},{"d":25,"h":21.5,"v":6840},{"d":25,"h":22,"v":6710},{"d":25,"h":22.5,"v":6390},{"d":25,"h":23,"v":5990},{"d":25,"h":23.75,"v":5400},
{"d":26,"h":0,"v":5380},{"d":26,"h":0.5,"v":5030},{"d":26,"h":1,"v":4750},{"d":26,"h":2,"v":4290},{"d":26,"h":3,"v":4030},{"d":26,"h":4,"v":3870},{"d":26,"h":5,"v":3890},{"d":26,"h":6,"v":4050},{"d":26,"h":6.5,"v":4220},{"d":26,"h":7,"v":4370},{"d":26,"h":7.25,"v":4430},{"d":26,"h":7.5,"v":4180},{"d":26,"h":8,"v":4090},{"d":26,"h":8.5,"v":4190},{"d":26,"h":9,"v":4220},{"d":26,"h":9.1,"v":2500},{"d":26,"h":9.35,"v":2500},{"d":26,"h":9.45,"v":5250},{"d":26,"h":10,"v":5140},{"d":26,"h":10.5,"v":5230},{"d":26,"h":11,"v":5310},{"d":26,"h":12,"v":5390},{"d":26,"h":12.5,"v":5440},{"d":26,"h":13,"v":5410},{"d":26,"h":14,"v":5450},{"d":26,"h":14.5,"v":5420},{"d":26,"h":15,"v":5480},{"d":26,"h":16,"v":5510},{"d":26,"h":16.5,"v":5560},{"d":26,"h":17,"v":5570},{"d":26,"h":17.5,"v":5620},{"d":26,"h":18,"v":5660},{"d":26,"h":19,"v":5790},{"d":26,"h":19.5,"v":6110},{"d":26,"h":20,"v":6640},{"d":26,"h":20.5,"v":7010},{"d":26,"h":21,"v":7140},{"d":26,"h":21.5,"v":7160},{"d":26,"h":22,"v":6990},{"d":26,"h":22.5,"v":6760},{"d":26,"h":23,"v":6340},{"d":26,"h":23.75,"v":5650},
{"d":27,"h":0,"v":5560},{"d":27,"h":0.5,"v":5180},{"d":27,"h":1,"v":4820},{"d":27,"h":2,"v":4350},{"d":27,"h":3,"v":4080},{"d":27,"h":4,"v":3930},{"d":27,"h":5,"v":3970},{"d":27,"h":6,"v":4350},{"d":27,"h":6.5,"v":4590},{"d":27,"h":7,"v":4830},{"d":27,"h":7.25,"v":4870},{"d":27,"h":7.5,"v":4710},{"d":27,"h":8,"v":4550},{"d":27,"h":8.5,"v":4750},{"d":27,"h":9,"v":4910},{"d":27,"h":10,"v":5130},{"d":27,"h":10.5,"v":5260},{"d":27,"h":11,"v":5300},{"d":27,"h":12,"v":5440},{"d":27,"h":12.5,"v":5390},{"d":27,"h":13,"v":5450},{"d":27,"h":14,"v":5470},{"d":27,"h":14.5,"v":5440},{"d":27,"h":15,"v":5500},{"d":27,"h":16,"v":5530},{"d":27,"h":16.5,"v":5590},{"d":27,"h":17,"v":5610},{"d":27,"h":17.5,"v":5700},{"d":27,"h":18,"v":5720},{"d":27,"h":19,"v":5840},{"d":27,"h":19.5,"v":6160},{"d":27,"h":20,"v":6690},{"d":27,"h":20.5,"v":7110},{"d":27,"h":21,"v":7290},{"d":27,"h":21.5,"v":7360},{"d":27,"h":22,"v":7190},{"d":27,"h":22.5,"v":6910},{"d":27,"h":23,"v":6440},{"d":27,"h":23.75,"v":5750},
{"d":28,"h":0,"v":5620},{"d":28,"h":0.5,"v":5220},{"d":28,"h":1,"v":4880},{"d":28,"h":2,"v":4370},{"d":28,"h":3,"v":4090},{"d":28,"h":4,"v":3940},{"d":28,"h":5,"v":4040},{"d":28,"h":6,"v":4610},{"d":28,"h":6.5,"v":4990},{"d":28,"h":7,"v":5290},{"d":28,"h":7.25,"v":5320},{"d":28,"h":7.5,"v":5110},{"d":28,"h":8,"v":4840},{"d":28,"h":8.5,"v":4900},{"d":28,"h":9,"v":5030},{"d":28,"h":10,"v":5240},{"d":28,"h":10.5,"v":5330},{"d":28,"h":11,"v":5380},{"d":28,"h":12,"v":5460},{"d":28,"h":12.5,"v":5500},{"d":28,"h":13,"v":5490},{"d":28,"h":14,"v":5480},{"d":28,"h":14.5,"v":5530},{"d":28,"h":15,"v":5510},{"d":28,"h":16,"v":5590},{"d":28,"h":16.5,"v":5560},{"d":28,"h":17,"v":5650},{"d":28,"h":17.5,"v":5690},{"d":28,"h":18,"v":5730},{"d":28,"h":19,"v":5870},{"d":28,"h":19.5,"v":6190},{"d":28,"h":20,"v":6690},{"d":28,"h":20.5,"v":7060},{"d":28,"h":21,"v":7240},{"d":28,"h":21.5,"v":7260},{"d":28,"h":22,"v":7090},{"d":28,"h":22.5,"v":6810},{"d":28,"h":23,"v":6340},{"d":28,"h":23.75,"v":5680},
{"d":29,"h":0,"v":5580},{"d":29,"h":0.5,"v":5200},{"d":29,"h":1,"v":4870},{"d":29,"h":2,"v":4340},{"d":29,"h":3,"v":4050},{"d":29,"h":4,"v":3900},{"d":29,"h":5,"v":4010},{"d":29,"h":6,"v":4490},{"d":29,"h":6.5,"v":4910},{"d":29,"h":7,"v":5190},{"d":29,"h":7.25,"v":5270},{"d":29,"h":7.5,"v":5020},{"d":29,"h":8,"v":4790},{"d":29,"h":8.5,"v":4830},{"d":29,"h":9,"v":5000},{"d":29,"h":10,"v":5180},{"d":29,"h":10.5,"v":5290},{"d":29,"h":11,"v":5340},{"d":29,"h":12,"v":5420},{"d":29,"h":12.5,"v":5470},{"d":29,"h":13,"v":5450},{"d":29,"h":14,"v":5450},{"d":29,"h":14.5,"v":5500},{"d":29,"h":15,"v":5510},{"d":29,"h":16,"v":5610},{"d":29,"h":16.5,"v":5690},{"d":29,"h":17,"v":5730},{"d":29,"h":17.5,"v":5780},{"d":29,"h":18,"v":5810},{"d":29,"h":19,"v":5940},{"d":29,"h":19.5,"v":6260},{"d":29,"h":20,"v":6740},{"d":29,"h":20.5,"v":7110},{"d":29,"h":21,"v":7290},{"d":29,"h":21.5,"v":7330},{"d":29,"h":22,"v":7190},{"d":29,"h":22.5,"v":6910},{"d":29,"h":23,"v":6440},{"d":29,"h":23.75,"v":5750},
{"d":30,"h":0,"v":5440},{"d":30,"h":0.5,"v":5080},{"d":30,"h":1,"v":4800},{"d":30,"h":2,"v":4330},{"d":30,"h":3,"v":4060},{"d":30,"h":4,"v":3910},{"d":30,"h":5,"v":3930},{"d":30,"h":6,"v":4290},{"d":30,"h":6.5,"v":4500},{"d":30,"h":7,"v":4750},{"d":30,"h":7.25,"v":4790},{"d":30,"h":7.5,"v":4630},{"d":30,"h":8,"v":4490},{"d":30,"h":8.5,"v":4690},{"d":30,"h":9,"v":4860},{"d":30,"h":10,"v":5080},{"d":30,"h":10.5,"v":5210},{"d":30,"h":11,"v":5260},{"d":30,"h":12,"v":5400},{"d":30,"h":12.5,"v":5350},{"d":30,"h":13,"v":5420},{"d":30,"h":14,"v":5420},{"d":30,"h":14.5,"v":5470},{"d":30,"h":15,"v":5450},{"d":30,"h":16,"v":5520},{"d":30,"h":16.5,"v":5490},{"d":30,"h":17,"v":5570},{"d":30,"h":17.5,"v":5600},{"d":30,"h":18,"v":5630},{"d":30,"h":19,"v":5790},{"d":30,"h":19.5,"v":6040},{"d":30,"h":20,"v":6560},{"d":30,"h":20.5,"v":6940},{"d":30,"h":21,"v":7130},{"d":30,"h":21.5,"v":7090},{"d":30,"h":22,"v":6960},{"d":30,"h":22.5,"v":6690},{"d":30,"h":23,"v":6310},{"d":30,"h":23.75,"v":5600},
{"d":31,"h":0,"v":5390},{"d":31,"h":0.5,"v":5040},{"d":31,"h":1,"v":4730},{"d":31,"h":2,"v":4290},{"d":31,"h":3,"v":4030},{"d":31,"h":4,"v":3870},{"d":31,"h":5,"v":3860},{"d":31,"h":6,"v":4010},{"d":31,"h":6.5,"v":4130},{"d":31,"h":7,"v":4310},{"d":31,"h":7.25,"v":4320},{"d":31,"h":7.5,"v":4110},{"d":31,"h":8,"v":3980},{"d":31,"h":8.5,"v":4210},{"d":31,"h":9,"v":4410},{"d":31,"h":10,"v":4760},{"d":31,"h":10.5,"v":4890},{"d":31,"h":11,"v":4990},{"d":31,"h":12,"v":5170},{"d":31,"h":12.5,"v":5120},{"d":31,"h":13,"v":5220},{"d":31,"h":14,"v":5230},{"d":31,"h":14.5,"v":5280},{"d":31,"h":15,"v":5260},{"d":31,"h":16,"v":5310},{"d":31,"h":16.5,"v":5280},{"d":31,"h":17,"v":5360},{"d":31,"h":17.5,"v":5410},{"d":31,"h":18,"v":5430},{"d":31,"h":19,"v":5610},{"d":31,"h":19.5,"v":5840},{"d":31,"h":20,"v":6360},{"d":31,"h":20.5,"v":6790},{"d":31,"h":21,"v":7010},{"d":31,"h":21.5,"v":6990},{"d":31,"h":22,"v":6860},{"d":31,"h":22.5,"v":6570},{"d":31,"h":23,"v":6170},{"d":31,"h":23.75,"v":5500}
]},
 "mark": {"type": "line", "strokeWidth": 1.5, "opacity": 0.9},
 "encoding": {
  "x": {"field": "h", "type": "quantitative", "axis": {"title": "Hora", "values": [0,2,4,6,8,10,12,14,16,18,20,22,24], "labelExpr": "(datum.value % 24 < 10 ? '0' : '') + (datum.value % 24) + ':00'", "grid": true, "gridDash": [2,2], "gridColor": "#d0d0d0", "tickColor": "#888888", "domainColor": "#888888", "tickSize": 4, "labelPadding": 2, "labelFontSize": 12, "labelColor": "#444444", "titleFontSize": 14, "titleFontWeight": "normal", "titleColor": "#333333", "labelFlush": false}},
  "y": {"field": "v", "type": "quantitative", "axis": {"title": "KWatts", "values": [0,500,1000,1500,2000,2500,3000,3500,4000,4500,5000,5500,6000,6500,7000,7500,8000,8500], "format": ",.0f", "grid": true, "gridDash": [2,2], "gridColor": "#d0d0d0", "tickColor": "#888888", "domainColor": "#888888", "tickSize": 4, "labelFontSize": 12, "labelColor": "#444444", "titleFontSize": 12, "titleFontWeight": "normal", "titleColor": "#333333", "labelFlush": false}},
  "color": {"field": "d", "type": "nominal",
   "scale": {"domain": [1,2,3,4,5,6,7,8,9,10,11,12,13,14,15,16,17,18,19,20,21,22,23,24,25,26,27,28,29,30,31],
     "range": ["#FF5555","#5555FF","#55FF55","#FFFF55","#FF55FF","#55FFFF","#FFAFAF","#808080","#C00000","#0000C0","#00C000","#C0C000","#C000C0","#00C0C0","#404040","#FF4040","#4040FF","#40FF40","#FFFF40","#FF40FF","#40FFFF","#C0C0C0","#800000","#000080","#008000","#808000","#800080","#008080","#FF8080","#8080FF","#80FF80"]},
   "legend": {"title": null, "orient": "none", "legendX": -93, "legendY": 511, "direction": "horizontal", "columns": 9, "columnPadding": 24, "rowPadding": 5, "padding": 4, "strokeColor": "#555555", "fillColor": "white", "symbolType": "stroke", "symbolSize": 400, "symbolStrokeWidth": 1.5, "symbolLimit": 40, "labelFontSize": 13, "labelColor": "#333333", "labelOffset": 6, "labelLimit": 200,
     "labelExpr": "(datum.value < 10 ? '0' : '') + datum.value + '/08/2019'"}}}}
]
}
